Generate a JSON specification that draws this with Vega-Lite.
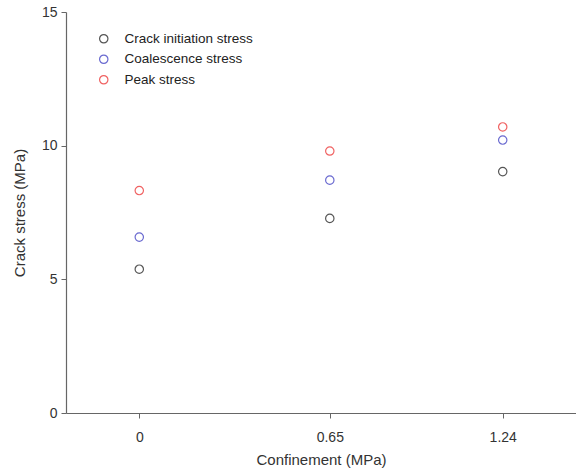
{
  "$schema": "https://vega.github.io/schema/vega-lite/v6.json",
  "autosize": {"type": "none"},
  "padding": {"left": 66, "top": 12, "right": 0, "bottom": 62},
  "width": 510,
  "height": 401,
  "background": "white",
  "config": {
    "view": {"stroke": null},
    "font": "Liberation Sans",
    "axis": {"grid": false, "domainColor": "#666666", "tickColor": "#666666", "labelColor": "#333333", "titleColor": "#333333", "labelFontSize": 14, "titleFontSize": 15, "titleFontWeight": "normal", "tickSize": 5, "domainWidth": 1.2}
  },
  "data": {
    "values": [
      {"confinement": 0, "stress": 5.38, "type": "Crack initiation stress"},
      {"confinement": 0, "stress": 6.58, "type": "Coalescence stress"},
      {"confinement": 0, "stress": 8.32, "type": "Peak stress"},
      {"confinement": 0.65, "stress": 7.28, "type": "Crack initiation stress"},
      {"confinement": 0.65, "stress": 8.71, "type": "Coalescence stress"},
      {"confinement": 0.65, "stress": 9.8, "type": "Peak stress"},
      {"confinement": 1.24, "stress": 9.03, "type": "Crack initiation stress"},
      {"confinement": 1.24, "stress": 10.21, "type": "Coalescence stress"},
      {"confinement": 1.24, "stress": 10.7, "type": "Peak stress"}
    ]
  },
  "mark": {"type": "point", "filled": false, "size": 70, "strokeWidth": 1.2, "opacity": 1},
  "encoding": {
    "x": {
      "field": "confinement", "type": "quantitative",
      "scale": {"domain": [-0.25, 1.49], "nice": false, "zero": false},
      "axis": {"values": [0, 0.65, 1.24], "labelExpr": "datum.value", "title": "Confinement (MPa)", "titlePadding": 8, "labelPadding": 12}
    },
    "y": {
      "field": "stress", "type": "quantitative",
      "scale": {"domain": [0, 15], "nice": false},
      "axis": {"values": [0, 5, 10, 15], "title": "Crack stress (MPa)", "titlePadding": 14, "labelPadding": 4}
    },
    "color": {
      "field": "type", "type": "nominal",
      "scale": {"domain": ["Crack initiation stress", "Coalescence stress", "Peak stress"], "range": ["#555555", "#6a6ad0", "#f06262"]},
      "legend": {"title": null, "orient": "none", "legendX": 31, "legendY": 20, "labelFontSize": 13.5, "labelColor": "#222222", "rowPadding": 5.5, "symbolSize": 70, "symbolStrokeWidth": 1.2, "symbolType": "circle", "labelOffset": 14}
    }
  }
}
